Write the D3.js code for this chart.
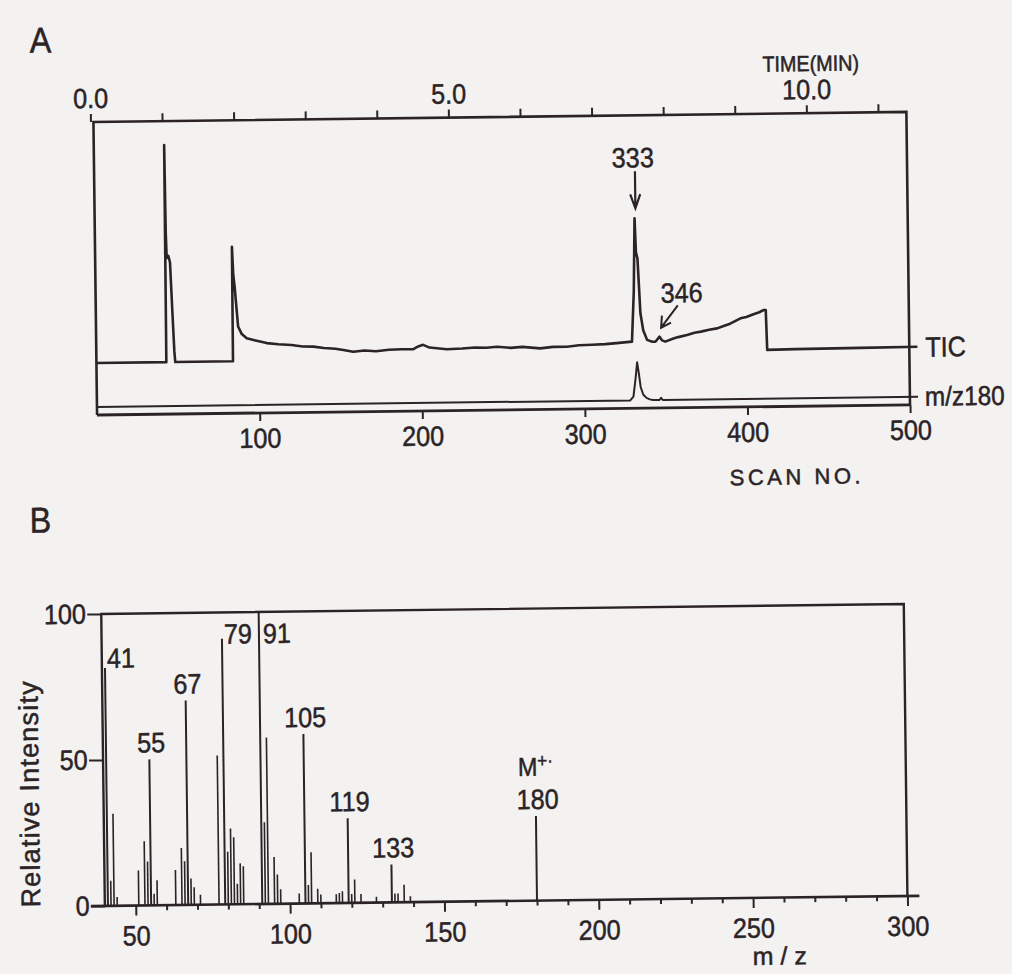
<!DOCTYPE html>
<html>
<head>
<meta charset="utf-8">
<script src="https://cdn.jsdelivr.net/npm/d3@7"></script>
<style>
  body { margin: 0; background: #f3f2f1; }
  svg { display: block; }
  text { font-family: "Liberation Sans", Arial, sans-serif; fill: #2b2326; stroke: #2b2326; stroke-width: 0.5px; }
</style>
</head>
<body>
<script>
// ---- panel A : total ion current and m/z 180 traces ----
const ticScans = [0, 43, 43.3, 43.6, 44, 45, 46, 47, 48, 48.5, 84, 84.2, 84.8, 85.6, 87.4, 89.6, 92.6, 98, 104.9,
  112, 120, 127, 133.5, 140, 147, 152, 158, 165, 172, 180, 188, 195, 198, 201, 205, 215.6, 225, 233, 240, 246.4,
  255, 262, 273, 281, 289.5, 297, 305, 313, 320, 329.5, 331, 332, 332.6, 333.5, 334.9, 336.5, 338.8, 342, 343.9,
  346.5, 348, 350, 355, 358, 363.4, 368, 372, 377, 382, 386, 390, 396.4, 400, 404, 408, 410.8, 412, 412.6, 430, 470, 505];
const ticValues = [0, 0, 100, 60, 48, 49, 46, 25, 5, 0, 0, 52.8, 40, 34, 16, 12.5, 10.5, 9.5, 8.2,
  7.6, 7.2, 6.4, 6.3, 5.6, 5.2, 4.6, 3.7, 4.2, 3.8, 4.4, 4.6, 4.6, 5.8, 6.5, 5.2, 4.3, 4.6, 5.0, 4.8, 5.2,
  4.6, 5.0, 4.2, 4.8, 4.8, 5.4, 5.6, 5.8, 6.2, 6.8, 30, 63.6, 48, 45, 19.8, 12, 7.5, 6.6, 6.6,
  8.9, 7.2, 6.6, 8, 8.6, 9.5, 10.5, 11, 11.8, 12.4, 13.5, 14.5, 16.9, 17.5, 18.6, 19.6, 20.6, 20.6, 2.2, 2.4, 2.6, 2.8];
const m180Scans = [0, 328, 330, 331.5, 332.5, 333.5, 334.5, 336, 338, 340, 342, 346, 347, 348, 505];
const m180Values = [0, 0, 10, 60, 100, 70, 35, 15, 6, 2, 0, 0, 6, 0, 0];
const scanTicks = [100, 200, 300, 400, 500];
const timeTicks = [0, 1, 2, 3, 4, 5, 6, 7, 8, 9, 10, 11];

// ---- panel B : mass spectrum ----
const mzValues = [41, 42, 43, 44, 51, 53, 54, 55, 56, 57, 63, 65, 66, 67, 68, 69, 71, 77, 79, 80, 81, 82, 83, 84, 85,
  91, 92, 93, 95, 96, 97, 103, 105, 106, 107, 109, 110, 115, 116, 117, 119, 120, 121, 123, 128, 133, 134, 135, 137, 139, 180];
const intensities = [81.5, 8.6, 31.5, 3, 12, 22, 15, 50, 4, 8.6, 12, 19.5, 15, 70, 9, 6, 3.4, 51, 91, 18, 26, 23, 7, 14, 13,
  100, 28, 57, 16, 10, 5, 3.4, 58, 6.3, 17.5, 5, 3, 3, 3.4, 4, 29, 3, 8, 3, 2, 13, 3, 3, 6, 2, 29];
const labelledPeaks = [41, 55, 67, 79, 91, 105, 119, 133, 180];
const mzMajor = [50, 100, 150, 200, 250, 300];
const mzMinor = d3.range(60, 300, 10).filter(d => d % 50 !== 0);
const intTicks = [0, 50, 100];

const ink = '#2b2326';
const width = 1012, height = 974;

const svg = d3.select('body').append('svg')
  .attr('width', width)
  .attr('height', height);

svg.append('rect').attr('width', width).attr('height', height).attr('fill', '#f3f2f1');

// the scanned page is slightly tilted
const g = svg.append('g').attr('transform', 'rotate(-0.71, 500, 487)');

const txt = (parent, x, y, s, size, anchor, sx) => parent.append('text')
  .attr('transform', `translate(${x},${y}) scale(${sx || 0.9},1)`)
  .attr('text-anchor', anchor || 'middle')
  .style('font-size', size + 'px')
  .text(s);

const styleAxis = (sel, size) => {
  sel.select('.domain').remove();
  sel.selectAll('line').attr('stroke', ink).attr('stroke-width', 2);
  sel.selectAll('text')
    .attr('fill', ink)
    .style('font-family', '"Liberation Sans", Arial, sans-serif')
    .style('font-size', size + 'px')
    .attr('transform', 'scale(0.9,1)');
};

// ================= panel A =================
const xScan = d3.scaleLinear().domain([0, 500]).range([98, 911]);
const xTime = d3.scaleLinear().domain([0, 10]).range([95, 811]);
const yTic = d3.scaleLinear().domain([0, 100]).range([358, 141]);
const y180 = d3.scaleLinear().domain([0, 100]).range([402, 364]);

const aTop = 117, aBottom = 410;

// frame
g.append('path')
  .attr('d', `M${xScan(0)},${aBottom}V${aTop}H${xScan(500)}V${aBottom}`)
  .attr('fill', 'none').attr('stroke', ink).attr('stroke-width', 2.6);
g.append('line')
  .attr('x1', xScan(0)).attr('x2', xScan(500))
  .attr('y1', aBottom).attr('y2', aBottom)
  .attr('stroke', ink).attr('stroke-width', 2.8);

const timeAxis = d3.axisTop(xTime)
  .tickValues(timeTicks)
  .tickSize(8)
  .tickPadding(6)
  .tickFormat(d => d % 5 === 0 ? d.toFixed(1) : '');
g.append('g').attr('transform', `translate(0,${aTop})`).call(timeAxis).call(styleAxis, 28);

const scanAxis = d3.axisBottom(xScan)
  .tickValues(scanTicks)
  .tickSize(8)
  .tickPadding(7);
g.append('g').attr('transform', `translate(0,${aBottom})`).call(scanAxis).call(styleAxis, 28);

const ticLine = d3.line().x((d, i) => xScan(ticScans[i])).y(d => yTic(d));
g.append('path')
  .datum(ticValues)
  .attr('d', ticLine)
  .attr('fill', 'none').attr('stroke', ink).attr('stroke-width', 2.6)
  .attr('stroke-linejoin', 'round');

const m180Line = d3.line().x((d, i) => xScan(m180Scans[i])).y(d => y180(d));
g.append('path')
  .datum(m180Values)
  .attr('d', m180Line)
  .attr('fill', 'none').attr('stroke', ink).attr('stroke-width', 2)
  .attr('stroke-linejoin', 'round');

// peak annotations
const pk1 = xScan(332) + 1, pk1y = yTic(63.6);
g.append('path')
  .attr('d', `M${pk1},${aTop + 56}V${pk1y - 10}M${pk1 - 5},${pk1y - 24}L${pk1},${pk1y - 10}L${pk1 + 5},${pk1y - 24}`)
  .attr('fill', 'none').attr('stroke', ink).attr('stroke-width', 2.2);
txt(g, pk1 - 2, aTop + 52, '333', 28);

const pk2 = xScan(347.5), pk2y = yTic(8.9) - 9;
g.append('path')
  .attr('d', `M${pk2 + 17},${pk2y - 22}L${pk2},${pk2y}M${pk2 + 1},${pk2y - 12}L${pk2},${pk2y}L${pk2 + 10},${pk2y - 5}`)
  .attr('fill', 'none').attr('stroke', ink).attr('stroke-width', 2);
txt(g, pk2 + 21, pk2y - 25, '346', 28);

txt(g, 927, yTic(2.8) + 10, 'TIC', 28, 'start');
txt(g, 926, y180(0) + 9, 'm/z180', 27, 'start', 0.9);
g.append('text')
  .attr('x', 797).attr('y', 488)
  .attr('text-anchor', 'middle')
  .style('font-size', '22px')
  .style('letter-spacing', '3.5px')
  .text('SCAN NO.');
txt(g, 816, 75, 'TIME(MIN)', 22, 'middle', 0.9);
txt(g, 46, 47, 'A', 36, 'middle', 0.9);

// ================= panel B =================
const xMz = d3.scaleLinear().domain([40, 300]).range([99.7, 902.3]);
const yInt = d3.scaleLinear().domain([0, 100]).range([901, 609]);

// frame
g.append('path')
  .attr('d', `M${xMz(40)},${yInt(0)}V${yInt(100)}H${xMz(300)}V${yInt(0)}`)
  .attr('fill', 'none').attr('stroke', ink).attr('stroke-width', 2.4);
g.append('line')
  .attr('x1', xMz(40) - 14).attr('x2', xMz(300) + 12)
  .attr('y1', yInt(0)).attr('y2', yInt(0))
  .attr('stroke', ink).attr('stroke-width', 2.6);

const mzAxis = d3.axisBottom(xMz).tickValues(mzMajor).tickSize(10).tickPadding(10);
g.append('g').attr('transform', `translate(0,${yInt(0)})`).call(mzAxis).call(styleAxis, 28);

const mzMinorAxis = d3.axisBottom(xMz).tickValues(mzMinor).tickSize(5).tickFormat('');
g.append('g').attr('transform', `translate(0,${yInt(0)})`).call(mzMinorAxis).call(styleAxis, 28);

const intAxis = d3.axisLeft(yInt).tickValues(intTicks).tickSize(14).tickPadding(3);
g.append('g').attr('transform', `translate(${xMz(40)},0)`).call(intAxis).call(styleAxis, 28);

// spectrum bars
g.append('g').selectAll('line')
  .data(mzValues)
  .join('line')
    .attr('x1', d => xMz(d)).attr('x2', d => xMz(d))
    .attr('y1', yInt(0))
    .attr('y2', (d, i) => yInt(intensities[i]))
    .attr('stroke', ink)
    .attr('stroke-width', d => labelledPeaks.includes(d) ? 2 : 1.6);

// peak labels
const peakInt = m => intensities[mzValues.indexOf(m)];
labelledPeaks.forEach(m => {
  const x = xMz(m), y = yInt(peakInt(m));
  if (m === 41) txt(g, x + 2, y, '41', 28, 'start');
  else if (m === 79 || m === 91) txt(g, x + (m === 91 ? 4 : 2), yInt(91) + 5, String(m), 28, 'start');
  else txt(g, x + 2, y - 7, String(m), 28);
});
const mPlus = g.append('text')
  .attr('transform', `translate(${xMz(180)},${yInt(29) - 40}) scale(0.9,1)`)
  .attr('text-anchor', 'middle')
  .style('font-size', '26px');
mPlus.append('tspan').text('M');
mPlus.append('tspan').attr('dy', -9).style('font-size', '19px').text('+·');

g.append('text')
  .attr('x', 774).attr('y', 968)
  .attr('text-anchor', 'middle')
  .style('font-size', '25px')
  .style('white-space', 'pre')
  .text('m / z');
txt(g, 40, 527, 'B', 36, 'middle', 0.9);
g.append('text')
  .attr('transform', `translate(35,788) rotate(-90)`)
  .attr('text-anchor', 'middle')
  .style('font-size', '27px')
  .style('letter-spacing', '1.2px')
  .text('Relative Intensity');
</script>
</body>
</html>
